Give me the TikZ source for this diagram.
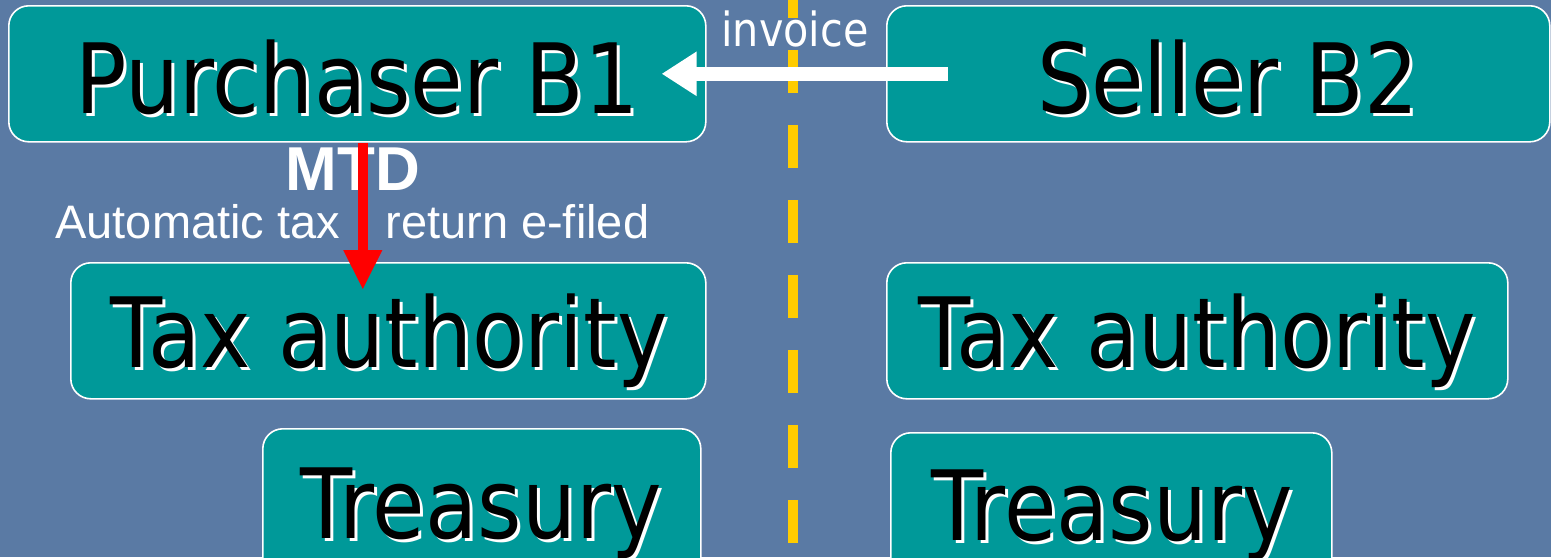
\documentclass[tikz,border=0pt]{standalone}
\usepackage{fontspec}
\usetikzlibrary{arrows.meta,calc}
\setmainfont{Liberation Sans}
\newfontfamily\boxfont[FakeStretch=0.88]{DejaVu Sans}
\definecolor{bgblue}{RGB}{90,122,164}
\definecolor{boxteal}{RGB}{0,153,153}
\definecolor{dashyellow}{RGB}{255,204,0}
\definecolor{mtdred}{RGB}{255,0,0}
\tikzset{
  panel/.style={draw=white, line width=0.8pt, fill=boxteal, rounded corners=10pt,
    anchor=north west, inner sep=0pt, minimum height=68pt},
  bigtext/.style={anchor=base, inner sep=0pt, font=\boxfont\fontsize{48.5}{50}\selectfont},
  smalltext/.style={anchor=base west, inner sep=0pt, text=white, font=\fontsize{23.5}{25}\selectfont},
  invarrow/.style={draw=white, line width=7pt, -{Triangle[length=17.5pt, width=21pt]}},
  mtdarrow/.style={draw=mtdred, line width=5pt, -{Triangle[length=20pt, width=18pt]}},
  divider/.style={draw=dashyellow, line width=5pt, dash pattern=on 21.5pt off 16pt}
}
\newcommand{\shadowlabel}[3]{%
  \node[bigtext, text=white] at ($(#1)+(3,3)$) {#3};
  \node[bigtext, text=black] (#2) at (#1) {#3};}
\begin{document}
\begin{tikzpicture}[x=0.5pt, y=-0.5pt]
\useasboundingbox (0,0) rectangle (1551,557);
\clip (0,0) rectangle (1551,557);
\fill[bgblue] (0,0) rectangle (1551,557);

% divider
\coordinate (dtop) at (793,-25);
\coordinate (dbot) at (793,600);
\draw[divider] (dtop) -- (dbot);

% panels
\node[panel, minimum width=348.5pt] (purch) at (8,5) {};
\node[panel, minimum width=331.5pt] (seller) at (886,5) {};
\node[panel, minimum width=317.5pt] (taxL) at (70,262) {};
\node[panel, minimum width=310.5pt] (taxR) at (886,262) {};
\node[panel, minimum width=219pt, minimum height=80pt] (treasL) at (262,428) {};
\node[panel, minimum width=220.5pt, minimum height=80pt] (treasR) at (890,432) {};

% labels with shadow
\coordinate (pB) at (357,113);
\coordinate (sB) at (1228,113);
\coordinate (tlB) at (389,367);
\coordinate (trB) at (1197,367);
\coordinate (ylB) at (481,538);
\coordinate (yrB) at (1112,540);
\shadowlabel{pB}{purchtext}{Purchaser B1}
\shadowlabel{sB}{sellertext}{Seller B2}
\shadowlabel{tlB}{taxLtext}{Tax authority}
\shadowlabel{trB}{taxRtext}{Tax authority}
\shadowlabel{ylB}{treasLtext}{Treasury}
\shadowlabel{yrB}{treasRtext}{Treasury}

% invoice label
\node[anchor=base, inner sep=0pt, text=white, font=\boxfont\fontsize{23.5}{26}\selectfont] (invoice) at (795,46) {invoice};

% MTD labels
\node[anchor=base, inner sep=0pt, text=white, font=\bfseries\fontsize{31}{33}\selectfont] (mtd) at (353,190) {MTD};
\node[smalltext] (auto1) at (55,238) {Automatic tax};
\node[smalltext] (auto2) at (385,238) {return e-filed};

% connectors
\draw[mtdarrow] ([xshift=2.75pt]purch.south) -- ([xshift=2.75pt,yshift=-14pt]purch.south |- taxL.north);
\draw[invarrow] ($(seller.west)+(62,0)$) -- ($(purch.east)+(-45,0)$);
\end{tikzpicture}
\end{document}
